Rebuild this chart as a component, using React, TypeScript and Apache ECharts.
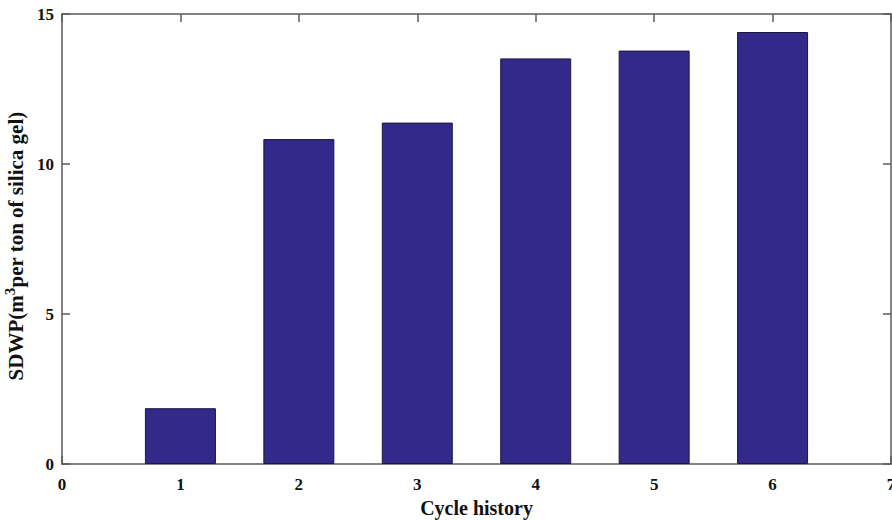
import React, { useEffect, useRef } from "react";
import * as echarts from "echarts";

const cycles = [1, 2, 3, 4, 5, 6];
const sdwp = [1.86, 10.83, 11.38, 13.52, 13.78, 14.4];
const xTicks = { min: 0, max: 7, interval: 1 };
const yTicks = { min: 0, max: 15, interval: 5 };

const FONT = "'Liberation Serif', 'Times New Roman', serif";
const AXIS_COLOR = "#5a5a5a";

export default function App() {
  const ref = useRef<HTMLDivElement>(null);
  useEffect(() => {
    if (!ref.current) return;
    const chart = echarts.init(ref.current, null, { renderer: "svg" });
    const tickStyle = { show: true, inside: true, length: 8, lineStyle: { color: AXIS_COLOR, width: 1.5 } };
    const axisLine = { show: true, onZero: false, lineStyle: { color: AXIS_COLOR, width: 1.5 } };
    const labelStyle = { fontFamily: FONT, fontWeight: "bold" as const, fontSize: 17, color: "#111" };
    chart.setOption({
      animation: false,
      backgroundColor: "#ffffff",
      grid: { left: 62, right: 1, top: 14, bottom: 56, containLabel: false, outerBoundsMode: "none" },
      xAxis: [
        {
          type: "value",
          min: xTicks.min,
          max: xTicks.max,
          interval: xTicks.interval,
          axisLine,
          axisTick: tickStyle,
          axisLabel: { ...labelStyle, margin: 12 },
          splitLine: { show: false },
          name: "Cycle history",
          nameLocation: "middle",
          nameGap: 33,
          nameTextStyle: { fontFamily: FONT, fontWeight: "bold", fontSize: 20, color: "#111" },
        },
        {
          type: "value",
          position: "top",
          min: xTicks.min,
          max: xTicks.max,
          interval: xTicks.interval,
          axisLine,
          axisTick: tickStyle,
          axisLabel: { show: false },
          splitLine: { show: false },
        },
      ],
      yAxis: [
        {
          type: "value",
          min: yTicks.min,
          max: yTicks.max,
          interval: yTicks.interval,
          axisLine,
          axisTick: tickStyle,
          axisLabel: { ...labelStyle, margin: 8 },
          splitLine: { show: false },
          name: "SDWP(m{sup|3}per ton of silica gel)",
          nameLocation: "middle",
          nameGap: 25,
          nameTextStyle: {
            fontFamily: FONT,
            fontWeight: "bold",
            fontSize: 21,
            color: "#111",
            padding: [0, 14, 0, 0],
            rich: {
              sup: { fontFamily: FONT, fontWeight: "bold", fontSize: 15, color: "#111", verticalAlign: "bottom", padding: [0, 0, 12, 0] },
            },
          },
        },
        {
          type: "value",
          position: "right",
          min: yTicks.min,
          max: yTicks.max,
          interval: yTicks.interval,
          axisLine,
          axisTick: tickStyle,
          axisLabel: { show: false },
          splitLine: { show: false },
        },
      ],
      series: [
        {
          type: "bar",
          xAxisIndex: 0,
          yAxisIndex: 0,
          data: cycles.map((c, i) => [c, sdwp[i]]),
          barWidth: 71,
          itemStyle: { color: "#33298a", borderColor: "#1c1840", borderWidth: 1 },
        },
      ],
    });
    return () => chart.dispose();
  }, []);
  return <div ref={ref} style={{ position: "fixed", left: 0, top: 0, width: 892, height: 520 }} />;
}
